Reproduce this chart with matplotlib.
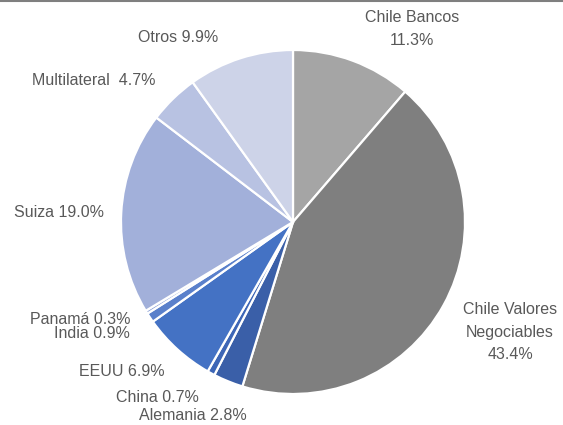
import matplotlib.pyplot as plt
from matplotlib.lines import Line2D

# datos del grafico
paises = ['Chile Bancos', 'Chile Valores\nNegociables', 'Alemania', 'China', 'EEUU',
          'India', 'Panamá', 'Suiza', 'Multilateral', 'Otros']
porcentajes = [11.3, 43.4, 2.8, 0.7, 6.9, 0.9, 0.3, 19.0, 4.7, 9.9]
colores = ['#a5a5a5', '#7f7f7f', '#3a5fa8', '#3d66b6', '#4472c4',
           '#5a80cb', '#8ba0d6', '#a2b0da', '#b8c2e2', '#cdd3e8']

# texto de cada etiqueta
etiquetas = ['Chile Bancos\n11.3%', 'Chile Valores\nNegociables\n43.4%', 'Alemania 2.8%',
             'China 0.7%', 'EEUU 6.9%', 'India 0.9%', 'Panamá 0.3%', 'Suiza 19.0%',
             'Multilateral  4.7%', 'Otros 9.9%']
# posicion de las etiquetas (pixeles, origen abajo a la izquierda)
pos_x = [412, 510, 193, 157, 122, 92, 80, 59, 94, 178]
pos_y = [396, 93, 10, 28, 54, 91, 106, 213, 345, 388]

W, H = 563, 425
fig = plt.figure(figsize=(W / 100, H / 100), dpi=100)
ax = fig.add_axes([0, 0, 1, 1])

ax.pie(porcentajes, colors=colores, startangle=90, counterclock=False,
       center=(293, 203), radius=172,
       wedgeprops=dict(edgecolor='white', linewidth=1.6), frame=True)
ax.set_xlim(0, W)
ax.set_ylim(0, H)
ax.set_aspect('equal')
ax.axis('off')

for txt, x, y in zip(etiquetas, pos_x, pos_y):
    ax.text(x, y, txt, ha='center', va='center', fontsize=11.5, color='#595959',
            family='Liberation Sans', linespacing=1.6)

# linea superior del borde
fig.add_artist(Line2D([0, 1], [0.998, 0.998], color='#7f7f7f', linewidth=1.5,
                      transform=fig.transFigure))

fig.savefig('out.png', dpi=100)
